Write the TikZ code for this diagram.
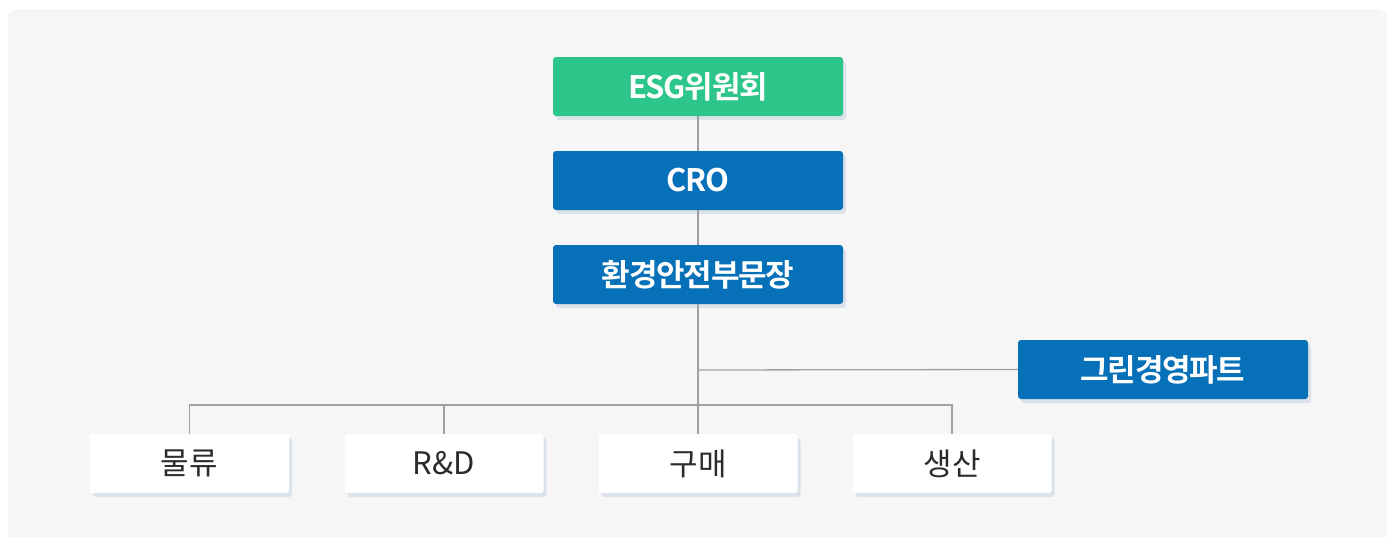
\documentclass[tikz,border=0pt]{standalone}
\usepackage{fontspec}
\newfontfamily\kr{Noto Sans CJK KR}
\newfontfamily\krb[LetterSpace=-4]{Noto Sans CJK KR Bold}
\usetikzlibrary{shadows}
\definecolor{bggray}{HTML}{F6F6F6}
\definecolor{esggreen}{HTML}{2DC68A}
\definecolor{boxblue}{HTML}{0670B8}
\definecolor{linegray}{HTML}{A0A0A0}
\definecolor{shadowc}{HTML}{C4D0DE}
\definecolor{txtdark}{HTML}{2B2B2B}
\tikzset{
  x=1pt,y=-1pt,
  sh/.style={drop shadow={shadow xshift=3pt,shadow yshift=-4pt,opacity=0.5,fill=shadowc}},
  topbox/.style={sh,rounded corners=3pt,minimum width=290pt,minimum height=59pt,inner sep=0pt,text=white,font=\krb\fontsize{31}{33}\selectfont},
  greenbox/.style={topbox,fill=esggreen},
  bluebox/.style={topbox,fill=boxblue},
  whitebox/.style={sh,rounded corners=3pt,fill=white,minimum width=199pt,minimum height=59pt,inner sep=0pt,text=txtdark,font=\kr\fontsize{31}{33}\selectfont},
  conn/.style={draw=linegray,line width=1.3pt}
}
\begin{document}
\begin{tikzpicture}
\useasboundingbox (0,0) rectangle (1394,536);
\fill[white] (0,0) rectangle (1394,536);
\fill[bggray,rounded corners=10pt] (8,9) rectangle (1387,545);
\node[greenbox] (esg) at (698,86.5) {ESG위원회};
\node[bluebox] (cro) at (698,180.5) {CRO};
\node[bluebox] (env) at (698,274.5) {환경안전부문장};
\node[bluebox] (green) at (1163,369.5) {그린경영파트};
\node[whitebox] (log) at (189.5,463.5) {물류};
\node[whitebox] (rnd) at (444,463.5) {R\&D};
\node[whitebox] (buy) at (698,463.5) {구매};
\node[whitebox] (prod) at (952,463.5) {생산};
\coordinate (j1) at (698,370);
\coordinate (j2) at (698,405);
\draw[conn] (esg.south) -- (cro.north);
\draw[conn] (cro.south) -- (env.north);
\draw[conn] (env.south) -- (buy.north);
\draw[conn] (j1) -- (green.west);
\draw[conn] (log.north) -- (log.north |- j2) -- (prod.north |- j2) -- (prod.north);
\draw[conn] (rnd.north) -- (rnd.north |- j2);
\end{tikzpicture}
\end{document}
